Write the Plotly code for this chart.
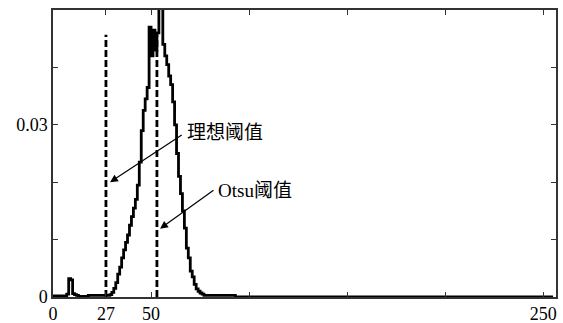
import plotly.graph_objects as go

# Histogram of grey levels (bin -> normalized frequency)
bins = list(range(0, 256))
nonzero = {
    0: 0.0002, 1: 0.0002, 2: 0.0002, 3: 0.0002, 4: 0.0002, 5: 0.0002, 6: 0.0002,
    7: 0.0005, 8: 0.0032, 9: 0.0030, 10: 0.0006, 11: 0.0004, 12: 0.0003,
    13: 0.0001, 14: 0.0001, 15: 0.0001, 16: 0.0001, 17: 0.0001,
    18: 0.0003, 19: 0.0003, 20: 0.0003, 21: 0.0003, 22: 0.0003, 23: 0.0003,
    24: 0.0003, 25: 0.0003, 26: 0.0003, 27: 0.0003, 28: 0.0003,
    29: 0.0004, 30: 0.0008, 31: 0.0015, 32: 0.0025, 33: 0.0040, 34: 0.0052,
    35: 0.0068, 36: 0.0082, 37: 0.0095, 38: 0.0108, 39: 0.0125, 40: 0.0140,
    41: 0.0155, 42: 0.0170, 43: 0.0195, 44: 0.0235, 45: 0.0290, 46: 0.0325,
    47: 0.0345, 48: 0.0365, 49: 0.0470, 50: 0.0420, 51: 0.0465, 52: 0.0430,
    53: 0.0460, 54: 0.0560, 55: 0.0530, 56: 0.0440, 57: 0.0420, 58: 0.0405,
    59: 0.0385, 60: 0.0370, 61: 0.0340, 62: 0.0300, 63: 0.0250, 64: 0.0210,
    65: 0.0180, 66: 0.0150, 67: 0.0120, 68: 0.0085, 69: 0.0068, 70: 0.0045,
    71: 0.0035, 72: 0.0022, 73: 0.0014, 74: 0.0010, 75: 0.0007, 76: 0.0005,
}
for b in range(77, 93):
    nonzero[b] = 0.0003
freq = [nonzero.get(b, 0.0) for b in bins]

ideal_threshold = 27
otsu_threshold = 53
threshold_height = 0.0457

x_tickvals = [0, 27, 50, 100, 150, 200, 250]
x_ticktext = ["0", "27", "50", "", "", "", "250"]
y_tickvals = [0, 0.01, 0.02, 0.03, 0.04]
y_ticktext = ["0", "", "", "0.03", ""]

label_ideal = "理想阈值"
label_otsu = "Otsu阈值"

fig = go.Figure()
fig.add_trace(go.Scatter(x=bins, y=freq, mode="lines", line=dict(color="black", width=2.8, shape="hv"),
                         showlegend=False, hoverinfo="skip"))
for t in (ideal_threshold, otsu_threshold):
    fig.add_trace(go.Scatter(x=[t, t], y=[0, threshold_height], mode="lines",
                             line=dict(color="black", width=2.8, dash="7px,3px"),
                             showlegend=False, hoverinfo="skip"))

serif = "Liberation Serif, Noto Sans CJK SC"
# arrows
fig.add_annotation(x=29.1, y=0.0200, ax=66.4, ay=0.0284, axref="x", ayref="y", xref="x", yref="y",
                   showarrow=True, arrowhead=2, arrowsize=1.3, arrowwidth=1.2, arrowcolor="black", text="")
fig.add_annotation(x=54.6, y=0.0119, ax=82.6, ay=0.0188, axref="x", ayref="y", xref="x", yref="y",
                   showarrow=True, arrowhead=2, arrowsize=1.3, arrowwidth=1.2, arrowcolor="black", text="")
fig.add_annotation(x=67.5, y=0.0287, xref="x", yref="y", text=label_ideal, showarrow=False,
                   xanchor="left", yanchor="middle", font=dict(family=serif, size=19, color="black"))
fig.add_annotation(x=83.0, y=0.0185, xref="x", yref="y", text=label_otsu, showarrow=False,
                   xanchor="left", yanchor="middle", font=dict(family=serif, size=19, color="black"))

axis_common = dict(showline=True, linecolor="#333", linewidth=1.5, mirror="ticks", ticks="inside",
                   ticklen=5, tickwidth=1.2, tickcolor="#333", showgrid=False, zeroline=False,
                   automargin=False, tickfont=dict(family=serif, size=18, color="black"))
fig.update_xaxes(range=[0, 256.5], tickmode="array", tickvals=x_tickvals, ticktext=x_ticktext, **axis_common)
fig.update_yaxes(range=[0, 0.05], tickmode="array", tickvals=y_tickvals, ticktext=y_ticktext, **axis_common)

fig.update_layout(width=563, height=323, margin=dict(l=53, r=7, t=10, b=26, pad=0),
                  plot_bgcolor="white", paper_bgcolor="white")
# remove the page's default 8px body margin so the figure sits at the window's corner
fig.write_html("out.html", config={"displayModeBar": False},
               post_script="document.body.style.margin='0';document.body.style.overflow='hidden';")
